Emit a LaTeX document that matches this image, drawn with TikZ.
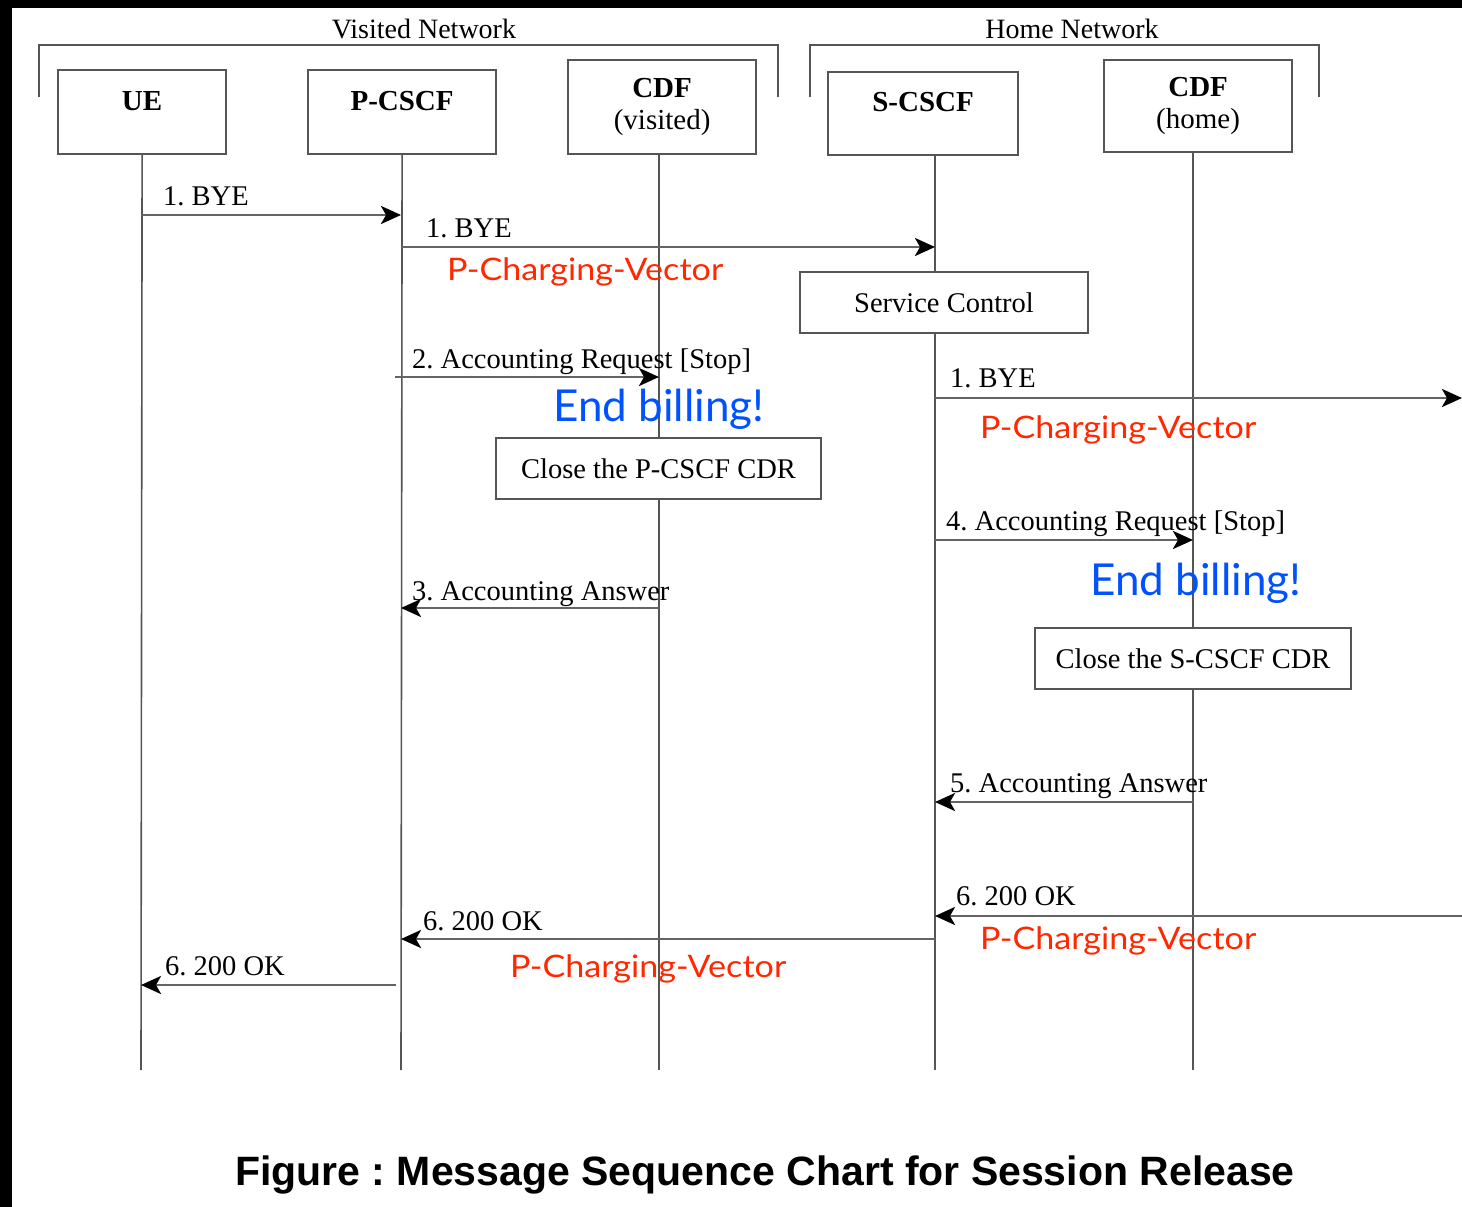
\documentclass[tikz,border=0pt]{standalone}
\usepackage{fontspec}
\setmainfont{Liberation Serif}
\newfontfamily\notefont{Lato}
\newfontfamily\pcvfont[FakeStretch=1.1]{Lato}
\newfontfamily\capfont{Liberation Sans}
\usetikzlibrary{arrows.meta}
\definecolor{boxgray}{RGB}{85,85,85}
\definecolor{msggray}{RGB}{100,100,100}
\definecolor{notered}{RGB}{255,40,0}
\definecolor{billblue}{RGB}{0,82,255}
\tikzset{
  entity/.style={draw=boxgray, line width=2.2pt, fill=white, inner sep=0pt,
    align=center, anchor=north west, font=\fontsize{29}{32}\selectfont},
  oneline/.style={text height=19pt, text depth=23pt},
  actbox/.style={draw=boxgray, line width=2.2pt, fill=white, inner sep=0pt,
    minimum height=61pt, font=\fontsize{28.5}{31}\selectfont},
  life/.style={draw=boxgray, line width=1.6pt},
  msg/.style={draw=msggray, line width=2.8pt,
    -{Stealth[length=20pt, width=18pt, inset=5pt, color=black]}},
  msglabel/.style={anchor=base west, inner sep=0pt, font=\fontsize{28.5}{31}\selectfont},
  pcv/.style={anchor=base west, inner sep=0pt, text=notered, font=\pcvfont\fontsize{31}{34}\selectfont},
  endbill/.style={anchor=base west, inner sep=0pt, text=billblue, font=\notefont\fontsize{44}{48}\selectfont},
  netlabel/.style={anchor=base, inner sep=0pt, font=\fontsize{28}{30}\selectfont},
}
\begin{document}
\frenchspacing
\begin{tikzpicture}[x=1pt, y=-1pt]
  \useasboundingbox (0,0) rectangle (1462,1207);
  \fill[black] (0,0) rectangle (1462,1207);
  \fill[white] (12,8) rectangle (1462,1207);

  % networks
  \draw[boxgray, line width=2.2pt] (39,97) -- (39,45) -- (778,45) -- (778,97);
  \draw[boxgray, line width=2.2pt] (810,97) -- (810,45) -- (1319,45) -- (1319,97);
  \node[netlabel] (visited) at (424,39) {Visited Network};
  \node[netlabel] (home) at (1072,39) {Home Network};

  % entities
  \node[entity, oneline, minimum width=168pt, minimum height=84pt] (ue) at (57,69) {\textbf{UE}};
  \node[entity, oneline, minimum width=188pt, minimum height=84pt] (pcscf) at (307,69) {\textbf{P-CSCF}};
  \node[entity, minimum width=188pt, minimum height=94pt] (cdfv) at (567,59) {\textbf{CDF}\\(visited)};
  \node[entity, oneline, minimum width=190pt, minimum height=83pt] (scscf) at (827,71) {\textbf{S-CSCF}};
  \node[entity, minimum width=188pt, minimum height=92pt] (cdfh) at (1103,59) {\textbf{CDF}\\(home)};

  \coordinate (ue-end) at (141,1070);
  \coordinate (pcscf-end) at (401,1070);
  \coordinate (cdfv-end) at (659,1070);
  \coordinate (scscf-end) at (935,1070);
  \coordinate (cdfh-end) at (1193,1070);
  \coordinate (out-bye) at (1462,398);
  \coordinate (in-ok) at (1462,916);

  \draw[life] (ue.south) -- (ue-end);
  \draw[life] (pcscf.south) -- (pcscf-end);
  \draw[life] (cdfv-end |- cdfv.south) -- (cdfv-end);
  \draw[life] (scscf-end |- scscf.south) -- (scscf-end);
  \draw[life] (cdfh-end |- cdfh.south) -- (cdfh-end);

  % actions
  \node[actbox, minimum width=288pt] (svc) at (944,302.5) {Service Control};
  \node[actbox, minimum width=325pt] (closep) at (658.5,468.5) {Close the P-CSCF CDR};
  \node[actbox, minimum width=316pt] (closes) at (1193,658.5) {Close the S-CSCF CDR};

  % messages
  \draw[msg] (ue-end |- 0,215) -- (pcscf-end |- 0,215);
  \draw[msg] (pcscf-end |- 0,247) -- (scscf-end |- 0,247);
  \draw[msg] ([xshift=-6pt]pcscf-end |- 0,377) -- (cdfv-end |- 0,377);
  \draw[msg] (cdfv-end |- 0,608) -- (pcscf-end |- 0,608);
  \draw[msg] (scscf-end |- out-bye) -- (out-bye);
  \draw[msg] (scscf-end |- 0,540) -- (cdfh-end |- 0,540);
  \draw[msg] (cdfh-end |- 0,802) -- (scscf-end |- 0,802);
  \draw[msg] (in-ok) -- (scscf-end |- in-ok);
  \draw[msg] (scscf-end |- 0,939) -- (pcscf-end |- 0,939);
  \draw[msg] ([xshift=-5pt]pcscf-end |- 0,985) -- (ue-end |- 0,985);

  \node[msglabel] (l1) at (163,205) {1. BYE};
  \node[msglabel] (l2) at (426,237) {1. BYE};
  \node[pcv] (v2) at (447,280) {P-Charging-Vector};
  \node[msglabel] (l3) at (412,368) {2. Accounting Request [Stop]};
  \node[endbill] (b3) at (553,421) {End billing!};
  \node[msglabel] (l4) at (412,600) {3. Accounting Answer};
  \node[msglabel] (l5) at (950,387) {1. BYE};
  \node[pcv] (v5) at (980,438) {P-Charging-Vector};
  \node[msglabel] (l6) at (946,530) {4. Accounting Request [Stop]};
  \node[endbill] (b6) at (1090,595) {End billing!};
  \node[msglabel] (l7) at (950,792) {5. Accounting Answer};
  \node[msglabel] (l8) at (956,905) {6. 200 OK};
  \node[pcv] (v8) at (980,949) {P-Charging-Vector};
  \node[msglabel] (l9) at (423,930) {6. 200 OK};
  \node[pcv] (v9) at (510,977) {P-Charging-Vector};
  \node[msglabel] (l10) at (165,975) {6. 200 OK};

  \node[anchor=base, inner sep=0pt, font=\capfont\bfseries\fontsize{41}{44}\selectfont] (caption) at (765,1185)
    {Figure : Message Sequence Chart for Session Release};
\end{tikzpicture}
\end{document}
